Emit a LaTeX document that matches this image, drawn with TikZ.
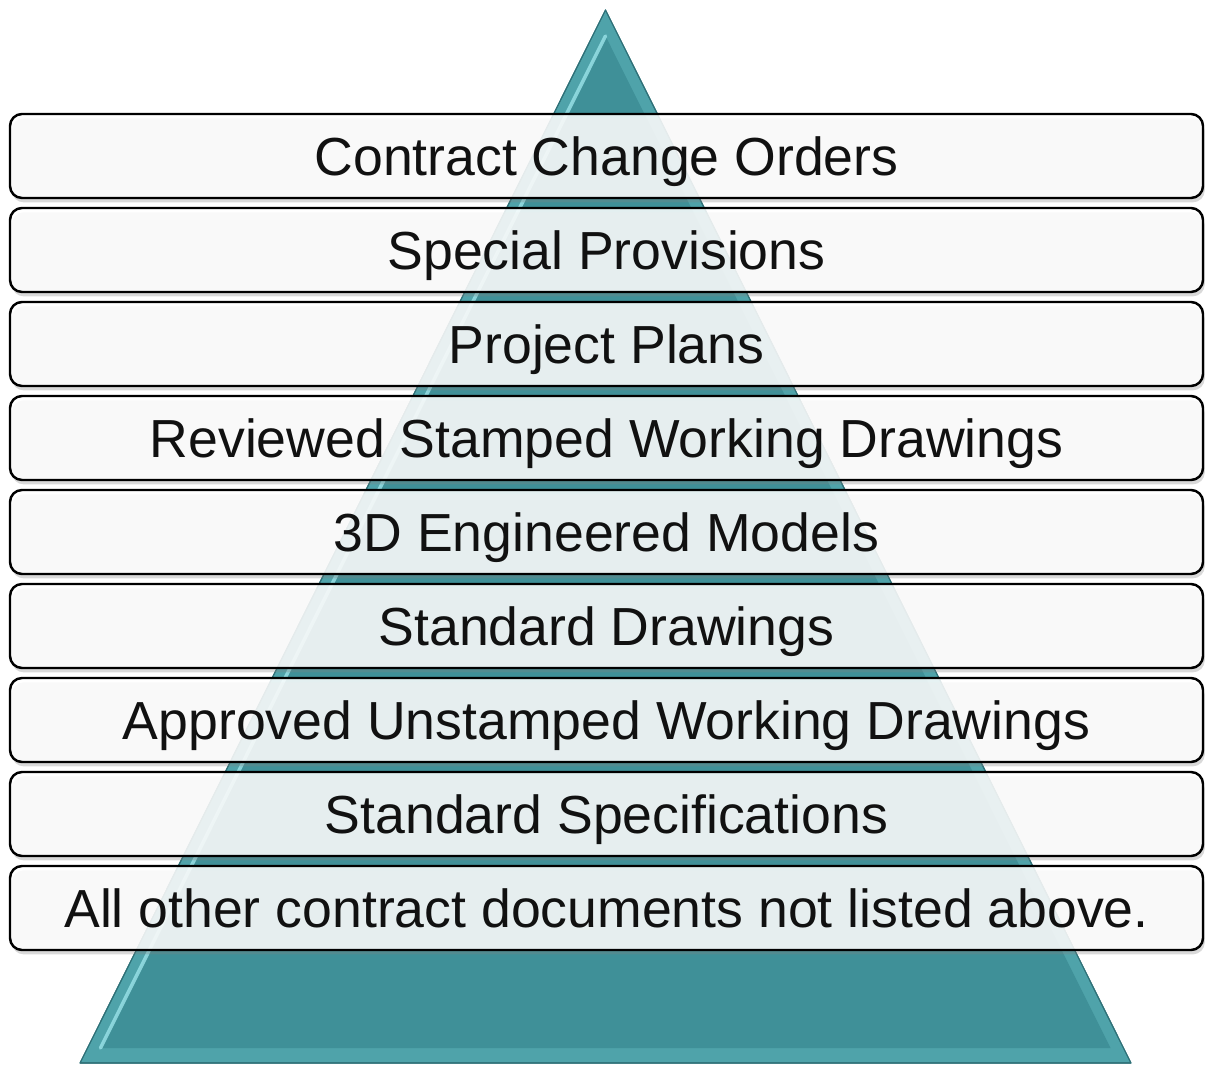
\documentclass[tikz,border=0pt]{standalone}
\usepackage{fontspec}
\setmainfont{Liberation Sans}
\usepackage{tikz}
\usetikzlibrary{shadows}
\definecolor{pyrdark}{HTML}{2F7178}
\definecolor{pyrbevel}{HTML}{4FA3AA}
\definecolor{pyrfill}{HTML}{3F9098}
\definecolor{pyrlight}{HTML}{9BE3E9}
\definecolor{tiertext}{HTML}{111111}
\tikzset{
  pyr/.style={fill=pyrbevel, draw=pyrdark, line width=0.6pt, line join=round},
  pyrin/.style={fill=pyrfill},
  glint/.style={draw=pyrlight, line width=2pt, line cap=round, opacity=0.8},
  tier/.style={draw=black, line width=1.4pt, rounded corners=0.24cm,
    fill=white, fill opacity=0.86, text opacity=1, text=tiertext,
    minimum width=23.86cm, minimum height=1.68cm, inner sep=0pt,
    text height=21.8pt, text depth=0pt,
    font=\fontsize{30.5}{36}\selectfont,
    drop shadow={shadow xshift=1pt, shadow yshift=-2.5pt, opacity=0.3}},
}

\begin{document}
\begin{tikzpicture}
  \useasboundingbox (0,0) rectangle (24.1,21.32);
  % pyramid behind the tiers
  \coordinate (top) at (12.11,21.12);
  \coordinate (bl) at (1.6,0.06);
  \coordinate (br) at (22.62,0.06);
  \coordinate (itop) at (12.11,20.6);
  \coordinate (ibl) at (2.01,0.36);
  \coordinate (ibr) at (22.21,0.36);
  \fill[pyr] (top) -- (bl) -- (br) -- cycle;
  \fill[pyrin] (itop) -- (ibl) -- (ibr) -- cycle;
  \draw[glint] (ibl) -- (itop);
  \draw[pyr, fill=none] (top) -- (bl) -- (br) -- cycle;
  % tiers
  \foreach \txt [count=\i] in {Contract Change Orders, Special Provisions,
      Project Plans, Reviewed Stamped Working Drawings, 3D Engineered Models,
      Standard Drawings, Approved Unstamped Working Drawings,
      Standard Specifications, All other contract documents not listed above.}
    \node[tier] (tier\i) at (12.13,{18.2-1.88*(\i-1)}) {\txt};
\end{tikzpicture}
\end{document}
